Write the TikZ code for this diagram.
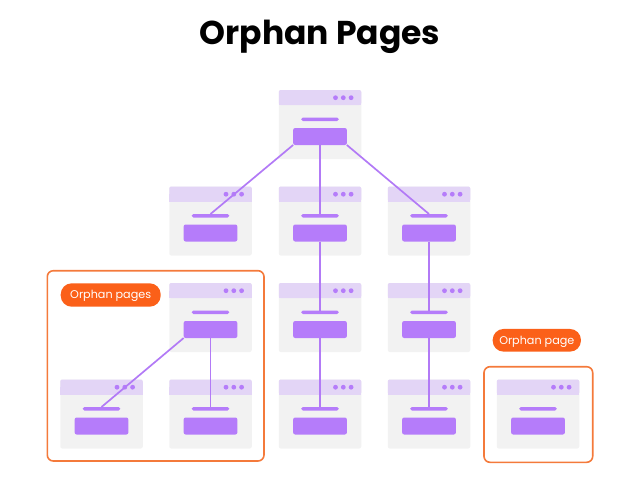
\documentclass[tikz,border=0pt]{standalone}
\usepackage{fontspec}
\setmainfont{Poppins}
\definecolor{bodycol}{HTML}{F2F2F2}
\definecolor{headcol}{HTML}{E3D5F6}
\definecolor{purp}{HTML}{B57CFA}
\definecolor{linecol}{HTML}{B27AF6}
\definecolor{orng}{HTML}{FB6019}
\definecolor{frame}{HTML}{F47A3B}
\tikzset{
  pagebg/.style={rectangle, fill=bodycol, rounded corners=2pt, minimum width=82.5pt, minimum height=69pt, inner sep=0pt, outer sep=0pt},
  pagehead/.style={rectangle, fill=headcol, rounded corners=2pt, minimum width=82.5pt, minimum height=15pt, inner sep=0pt, outer sep=0pt},
  pgdot/.style={circle, fill=purp, minimum size=4.8pt, inner sep=0pt, outer sep=0pt},
  pgbar/.style={rectangle, fill=purp, rounded corners=1.7pt, minimum width=37.6pt, minimum height=3.6pt, inner sep=0pt, outer sep=0pt},
  pgbtn/.style={rectangle, fill=purp, rounded corners=2pt, minimum width=53.7pt, minimum height=17pt, inner sep=0pt, outer sep=0pt},
  conn/.style={draw=linecol, line width=1.7pt},
  framebox/.style={rectangle, draw=frame, line width=1.6pt, rounded corners=6pt, inner sep=0pt, outer sep=0pt},
  pill/.style={rectangle, fill=orng, rounded corners=11pt, text=white, font=\fontsize{11.2}{13}\selectfont, text height=8pt, text depth=0.4pt, inner sep=0pt, outer sep=0pt},
}
\newcommand\pagebox[3]{%
  \node[pagebg] (#1) at (#2, #3+34.5) {};
  \node[pagehead, anchor=north] (#1-h) at (#1.north) {};
  \fill[headcol] (#1-h.west) rectangle (#1-h.south east);
  \node[pgdot] (#1-d1) at (#2+15.5, #3+7.7) {};
  \node[pgdot] (#1-d2) at (#2+23.3, #3+7.7) {};
  \node[pgdot] (#1-d3) at (#2+31.1, #3+7.7) {};
  \node[pgbar] (#1-bar) at (#2, #3+29.3) {};
  \node[pgbtn] (#1-b) at (#2, #3+46.5) {};
}
\begin{document}
\begin{tikzpicture}[x=1pt, y=-1pt]
\useasboundingbox (0,0) rectangle (640,480);
\node[anchor=base, font=\fontsize{33}{36}\selectfont\bfseries] (title) at (320, 44.3) {Orphan Pages};

% frames
\node[framebox, minimum width=216.7pt, minimum height=190.3pt] (frameA) at (155.65, 365.85) {};
\node[framebox, minimum width=108.7pt, minimum height=95.6pt] (frameB) at (538.35, 414.5) {};

% pages
\pagebox{r}{320}{90}
\pagebox{a}{210.5}{186.5}
\pagebox{m}{320}{186.5}
\pagebox{c}{429}{186.5}
\pagebox{o}{210.5}{283}
\pagebox{m2}{320}{283}
\pagebox{c2}{429}{283}
\pagebox{ol}{101.5}{379.5}
\pagebox{or}{210.5}{379.5}
\pagebox{m3}{320}{379.5}
\pagebox{c3}{429}{379.5}
\pagebox{s}{538}{379.5}

% pills
\node[pill, minimum width=100pt, minimum height=23.4pt] (pillA) at (110.7, 295) {Orphan pages};
\node[pill, minimum width=88.3pt, minimum height=22.7pt] (pillB) at (536.8, 340.3) {Orphan page};

% connectors
\draw[conn] (r-b.south west) -- (a-bar.north);
\draw[conn] (r-b.south) -- (m-bar.north);
\draw[conn] (r-b.south east) -- (c-bar.north);
\draw[conn] (m-b.south) -- (m2-bar.north);
\draw[conn] (m2-b.south) -- (m3-bar.north);
\draw[conn] (c-b.south) -- (c2-bar.north);
\draw[conn] (c2-b.south) -- (c3-bar.north);
\draw[conn] (o-b.south west) -- (ol-bar.north);
\draw[conn] (o-b.south) -- (or-bar.north);
\end{tikzpicture}
\end{document}
